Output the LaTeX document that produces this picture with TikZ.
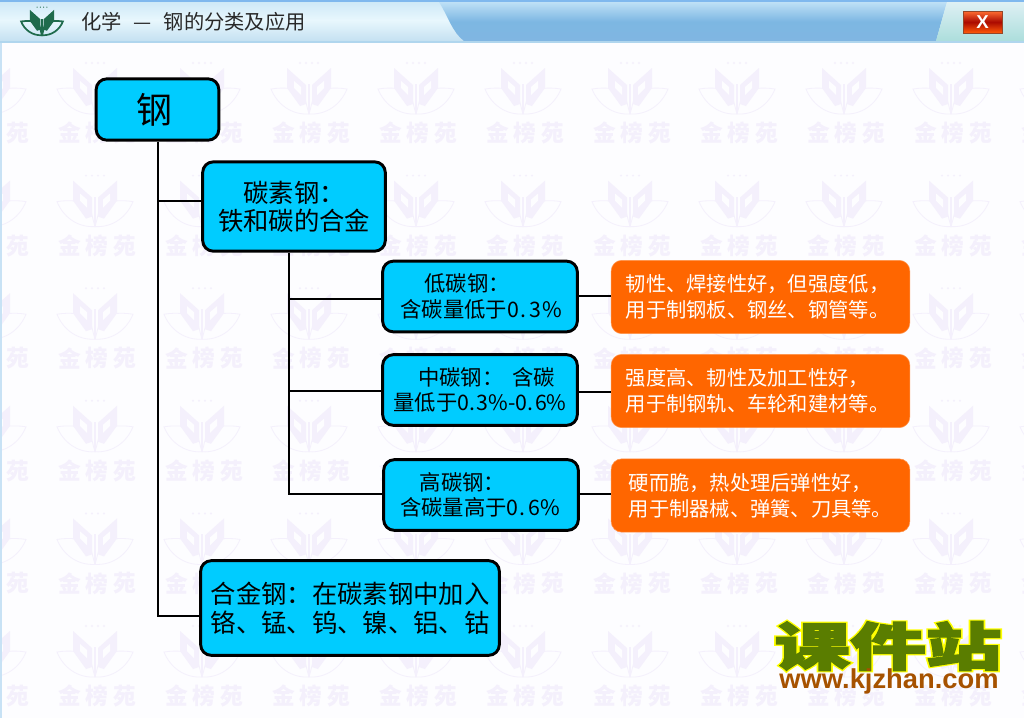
\documentclass[tikz,border=0pt]{standalone}
\usepackage{fontspec}
\setmainfont{Noto Sans CJK SC}
\newfontfamily\cjkf{Noto Sans CJK SC}
\newfontfamily\kjgreen[BoldFeatures={FakeBold=2.5}]{Noto Sans CJK SC}
\newfontfamily\kjyellow[BoldFeatures={FakeBold=7}]{Noto Sans CJK SC}
\newfontfamily\latinb{Liberation Sans}
\usetikzlibrary{calc}
\newcommand{\gapp}[1]{\rule{#1}{0pt}}
\definecolor{boxblue}{HTML}{00CCFF}
\definecolor{boxorange}{HTML}{FF6600}
\definecolor{wm}{HTML}{F4F0FC}
\definecolor{logogreen}{HTML}{1F6B4C}
\definecolor{kjg}{HTML}{5A7D00}
\definecolor{kjy}{HTML}{FFFF00}
\definecolor{kjb}{HTML}{A65200}
\definecolor{page}{HTML}{FDFDFF}
\definecolor{edge}{HTML}{C8E2F5}
\definecolor{hdA}{HTML}{CDE8F7}
\definecolor{hdB}{HTML}{E8F7FD}
\definecolor{hdC}{HTML}{C3E0F1}
\definecolor{swA}{HTML}{BEE0F6}
\definecolor{swB}{HTML}{7DB7E2}
\definecolor{swC}{HTML}{80B6E2}
\definecolor{rtA}{HTML}{DEF0F4}
\definecolor{rtB}{HTML}{ACDEDC}
\definecolor{topline}{HTML}{7FB8EE}
\definecolor{botline}{HTML}{B0D6EE}
\definecolor{titlec}{HTML}{282828}
\definecolor{btA}{HTML}{FF6E32}
\definecolor{btB}{HTML}{AA0A00}
\definecolor{btC}{HTML}{FF5A0A}
\definecolor{btD}{HTML}{964628}
\tikzset{
  bluebox/.style={draw=black,line width=2.2pt,fill=boxblue,rounded corners=8pt,inner sep=0pt,align=center,text=black},
  orangebox/.style={draw=boxorange!70!white,line width=.4pt,fill=boxorange,rounded corners=8pt,inner sep=0pt,text=white,minimum width=224pt,minimum height=55pt,text width=202pt,align=left,font=\cjkf\fontsize{15.2}{19.5}\selectfont},
  smalltext/.style={font=\cjkf\fontsize{16}{19}\selectfont},
  conn/.style={draw=black,line width=2pt},
  wmtext/.style={text=wm,font=\cjkf\bfseries\fontsize{17}{17}\selectfont,inner sep=0pt},
  pics/emblem/.style 2 args={code={
    \path[draw=#1,line width=#2] (-38,-1) .. controls (-25,-3) and (-12,-2) .. (-6,4) .. controls (-3,10) and (-2,18) .. (0,24) .. controls (-18,25) and (-32,14) .. (-38,-1) -- cycle;
    \path[draw=#1,line width=#2] (38,-1) .. controls (25,-3) and (12,-2) .. (6,4) .. controls (3,10) and (2,18) .. (0,24) .. controls (18,25) and (32,14) .. (38,-1) -- cycle;
    \fill[#1] (-22,-22) -- (-3,-5) -- (-3,14) -- (-9,16) -- (-22,-2) -- cycle;
    \fill[#1] (22,-22) -- (3,-5) -- (3,14) -- (9,16) -- (22,-2) -- cycle;
    \fill[#1] (-1.3,-6) rectangle (1.3,24);
    \foreach \q in {-9,-3,3,9}{\fill[#1] (\q,-27) circle (1.1);}
  }}
}
\begin{document}
\begin{tikzpicture}[x=0.75pt,y=-0.75pt]
\useasboundingbox (0,0) rectangle (1024,718);
\fill[page] (0,0) rectangle (1024,718);
% watermark
\foreach \cx in {-12,95,202,309,416,523,630,737,844,951,1058}{
  \foreach \k in {0,1,2,3,4,5}{
    \pgfmathsetmacro{\ey}{90+112.6*\k}
    \pic at (\cx,\ey) {emblem={wm}{.6pt}};
    \fill[page] (\cx-15,\ey-9) -- (\cx-8,\ey-3) -- (\cx-8,\ey+5) -- (\cx-15,\ey-2) -- cycle;
    \fill[page] (\cx+15,\ey-9) -- (\cx+8,\ey-3) -- (\cx+8,\ey+5) -- (\cx+15,\ey-2) -- cycle;
    \node[wmtext] at (\cx-25,\ey+43) {金};
    \node[wmtext] at (\cx+2,\ey+43) {榜};
    \node[wmtext] at (\cx+30,\ey+43) {苑};
  }
}
% window edge
\fill[edge] (0,0) rectangle (1.6,718);
% header
\shade[top color=hdA,bottom color=hdB] (0,1) rectangle (1024,20);
\shade[top color=hdB,bottom color=hdC] (0,20) rectangle (1024,42);
% blue swoosh
\shade[top color=swA,bottom color=swC,middle color=swB]
  (439,2) .. controls (448,16) and (452,32) .. (464,41) -- (936,41) -- (947,2) -- cycle;
\shade[top color=rtA,bottom color=rtB] (947,2) -- (936,41) -- (1024,41) -- (1024,2) -- cycle;
\fill[topline] (0,0) rectangle (1024,2);
\fill[botline] (0,41) rectangle (1024,43);
% header logo
\pic[scale=.55] at (42,22) {emblem={logogreen}{1.3pt}};
% header title
\node[inner sep=0pt,anchor=west,text=titlec,font=\cjkf\fontsize{15.2}{15}\selectfont] (title) at (81,22) {化学\hspace{9pt}—\hspace{9pt}钢的分类及应用};
% close button
\shade[top color=btA,bottom color=btC,middle color=btB,draw=btD,line width=.7pt] (963,11) rectangle (1002,33);
\node[inner sep=0pt,text=white,font=\latinb\bfseries\fontsize{14}{14}\selectfont] (closex) at (982.5,22) {X};

% coordinates for the trunks and for the branch heights
\coordinate (t1) at (158,141);
\coordinate (t2) at (289,252);
\coordinate (yt) at (0,201);
\coordinate (ya) at (0,616);
\coordinate (yl) at (0,299);
\coordinate (ym) at (0,391);
\coordinate (yh) at (0,494);
\coordinate (rl) at (0,296);
\coordinate (rm) at (0,392);

% boxes
\node[bluebox,minimum width=92pt,minimum height=46pt,font=\cjkf\fontsize{27}{30}\selectfont] (gang) at (157.5,109.5) {钢\gapp{4pt}};
\node[bluebox,minimum width=137pt,minimum height=67pt,font=\cjkf\fontsize{19}{21}\selectfont] (tansu) at (294,206.5) {碳素钢：\\铁和碳的合金};
\node[bluebox,minimum width=146pt,minimum height=53pt,smalltext] (low) at (480,296.5) {低碳钢：\gapp{19.5pt}\\\gapp{2pt}含碳量低于0\hspace{.8pt}.\hspace{2.6pt}3\hspace{.8pt}\%};
\node[bluebox,minimum width=146pt,minimum height=53pt,smalltext] (mid) at (480,390) {\gapp{10pt}中碳钢：\hspace{7pt}含碳\\量低于0.\hspace{1.2pt}3\%-0.\hspace{1.2pt}6\%};
\node[bluebox,minimum width=146pt,minimum height=53pt,smalltext] (high) at (481,495) {高碳钢：\gapp{28pt}\\含碳量高于0\hspace{.4pt}.\hspace{2.4pt}6\hspace{.4pt}\%\gapp{1pt}};
\node[bluebox,minimum width=224pt,minimum height=71pt,font=\cjkf\fontsize{19}{22}\selectfont] (alloy) at (350,608) {合金钢：在碳素钢中加入\\铬、锰、钨、镍、铝、钴};
\node[orangebox] (olow) at (760.5,297) {韧性、焊接性好，但强度低，\\用于制钢板、钢丝、钢管等。};
\node[orangebox] (omid) at (760.5,391) {强度高、韧性及加工性好，\\用于制钢轨、车轮和建材等。};
\node[orangebox] (ohigh) at (760.5,495.5) {\gapp{2.2pt}硬而脆，热处理后弹性好，\\\gapp{2.2pt}用于制器械、弹簧、刀具等。};

% connectors
\draw[conn] (gang.south -| t1) |- (alloy.west |- ya);
\draw[conn] (t1 |- yt) -- (tansu.west |- yt);
\draw[conn] (tansu.south -| t2) |- (high.west |- yh);
\draw[conn] (t2 |- yl) -- (low.west |- yl);
\draw[conn] (t2 |- ym) -- (mid.west |- ym);
\draw[conn] (low.east |- rl) -- (olow.west |- rl);
\draw[conn] (mid.east |- rm) -- (omid.west |- rm);
\draw[conn] (high.east |- yh) -- (ohigh.west |- yh);

% site logo
\node[inner sep=0pt,text=kjy,font=\kjyellow\bfseries\fontsize{54}{54}\selectfont] (kjback) at (888,646) {\scalebox{1.05}[.72]{课件站}};
\node[inner sep=0pt,text=kjg,font=\kjgreen\bfseries\fontsize{54}{54}\selectfont] (kj) at (888,646) {\scalebox{1.05}[.72]{课件站}};
\node[inner sep=0pt,text=kjb,font=\latinb\bfseries\fontsize{20.5}{20}\selectfont] (url) at (889,681) {www.kjzhan.com};
\end{tikzpicture}
\end{document}
